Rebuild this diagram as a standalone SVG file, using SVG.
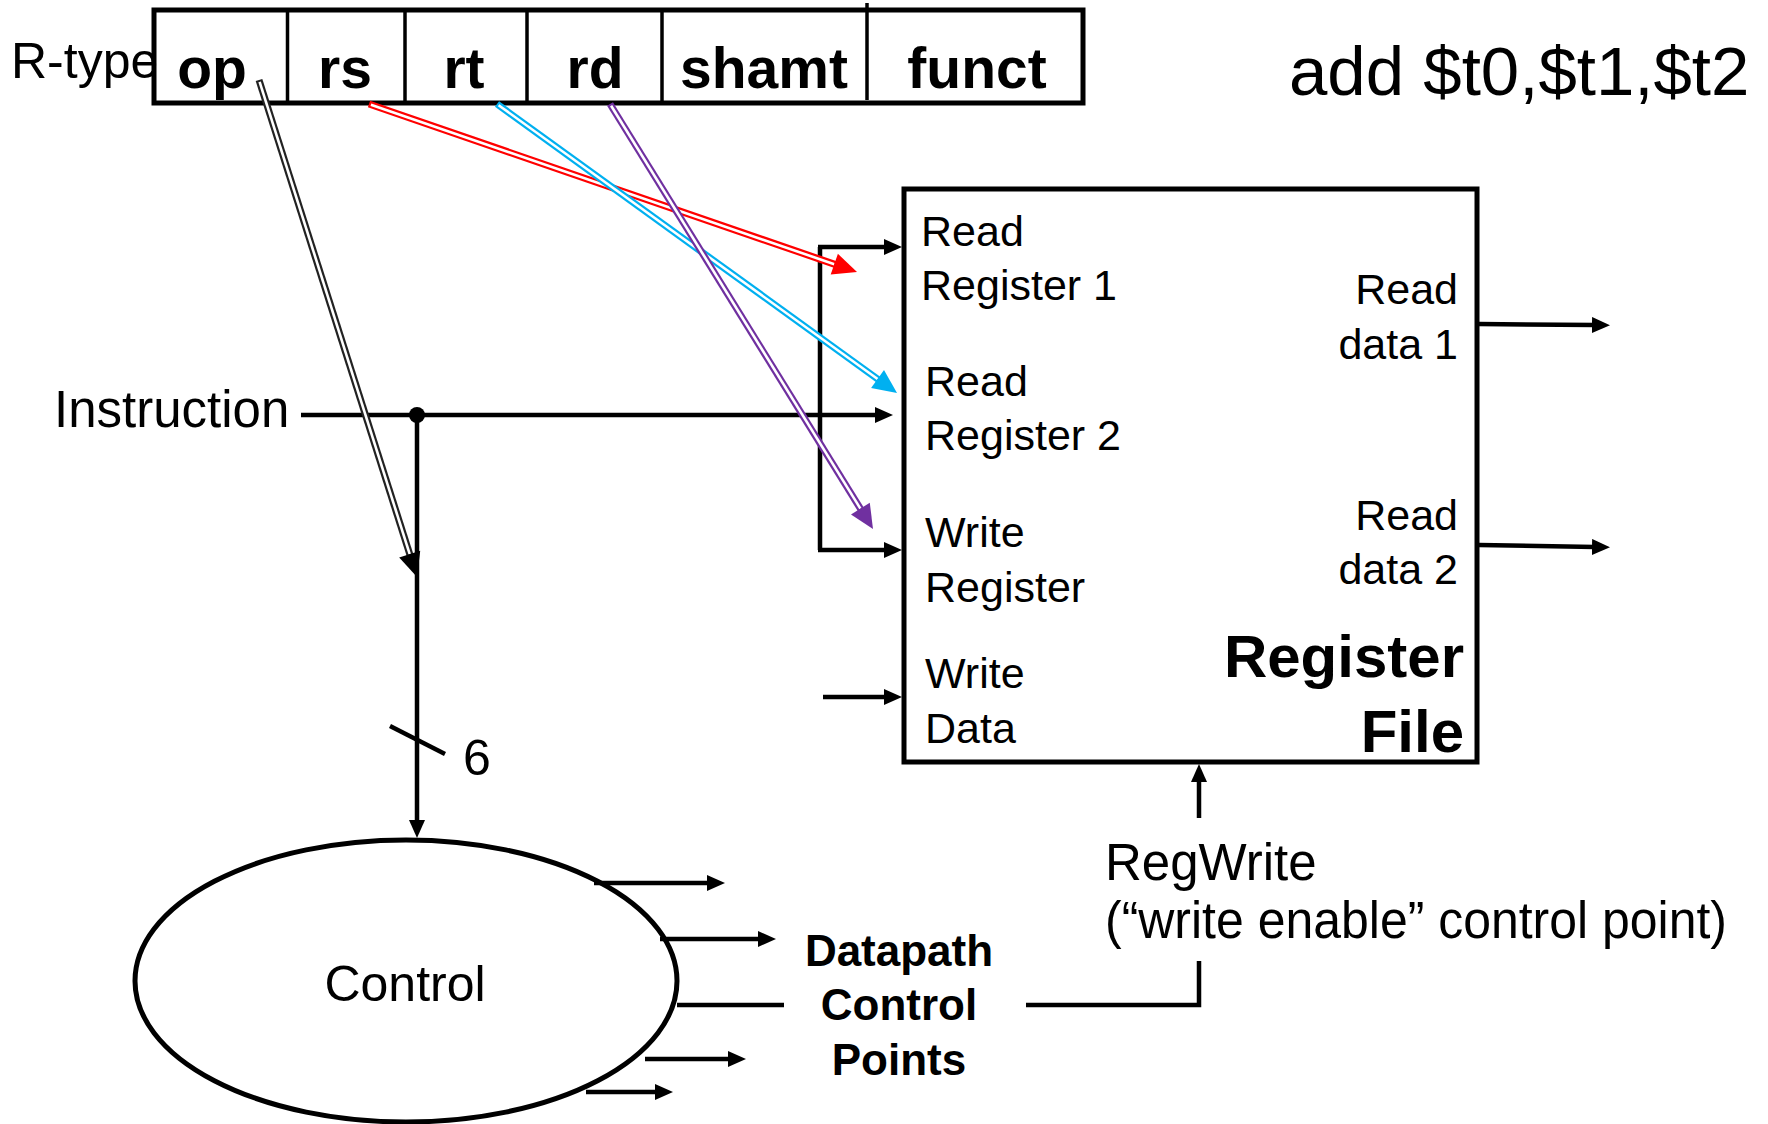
<svg xmlns="http://www.w3.org/2000/svg" width="1768" height="1124" viewBox="0 0 1768 1124">
<style>
text{font-family:"Liberation Sans",Arial,sans-serif;fill:#000}
.fld{font-size:57px;font-weight:bold;text-anchor:middle}
.lbl{font-size:43px}
.rt{font-size:43px;text-anchor:end}
.ln{stroke:#000;stroke-width:4.5;fill:none}
.arr{marker-end:url(#ah)}
.in{stroke:#fff;stroke-width:2.6;fill:none}
</style>
<defs>
<marker id="ah" markerUnits="userSpaceOnUse" markerWidth="20" markerHeight="16" refX="3" refY="8" orient="auto">
<path d="M0,0 L18,8 L0,16 z" fill="#000"/>
</marker>
</defs>
<rect width="1768" height="1124" fill="#fff"/>

<g id="instr-format">
<rect x="154" y="10" width="929" height="93" fill="none" stroke="#000" stroke-width="5"/>
<line x1="287.5" y1="10" x2="287.5" y2="103" stroke="#000" stroke-width="3.5"/>
<line x1="405" y1="10" x2="405" y2="103" stroke="#000" stroke-width="3.5"/>
<line x1="527" y1="10" x2="527" y2="103" stroke="#000" stroke-width="3.5"/>
<line x1="662" y1="10" x2="662" y2="103" stroke="#000" stroke-width="3.5"/>
<line x1="867" y1="3" x2="867" y2="100" stroke="#000" stroke-width="3.5"/>
<text class="fld" x="212" y="88">op</text>
<text class="fld" x="345" y="88">rs</text>
<text class="fld" x="464" y="88">rt</text>
<text class="fld" x="595" y="88">rd</text>
<text class="fld" x="764" y="88">shamt</text>
<text class="fld" x="977" y="88">funct</text>
</g>
<text id="rtype" x="11" y="78" font-size="50">R-type</text>
<text id="asm" x="1289" y="95" font-size="69">add $t0,$t1,$t2</text>

<g id="regfile">
<rect x="904" y="189" width="573" height="573" fill="none" stroke="#000" stroke-width="5"/>
<text class="lbl" x="921" y="246">Read</text>
<text class="lbl" x="921" y="300">Register 1</text>
<text class="lbl" x="925" y="396">Read</text>
<text class="lbl" x="925" y="450">Register 2</text>
<text class="lbl" x="925" y="547">Write</text>
<text class="lbl" x="925" y="602">Register</text>
<text class="lbl" x="925" y="688">Write</text>
<text class="lbl" x="925" y="743">Data</text>
<text class="rt" x="1458" y="304">Read</text>
<text class="rt" x="1458" y="359">data 1</text>
<text class="rt" x="1458" y="530">Read</text>
<text class="rt" x="1458" y="584">data 2</text>
<text x="1464" y="677" font-size="60" font-weight="bold" text-anchor="end">Register</text>
<text x="1464" y="752" font-size="60" font-weight="bold" text-anchor="end">File</text>
</g>

<g id="control">
<ellipse cx="406" cy="981" rx="271" ry="141" fill="none" stroke="#000" stroke-width="5"/>
<text x="405" y="1001" font-size="50" text-anchor="middle">Control</text>
</g>

<g id="labels">
<text x="54" y="427" font-size="51">Instruction</text>
<text x="463" y="775" font-size="50">6</text>
<text x="899" y="966" font-size="44" font-weight="bold" text-anchor="middle">Datapath</text>
<text x="899" y="1020" font-size="44" font-weight="bold" text-anchor="middle">Control</text>
<text x="899" y="1075" font-size="44" font-weight="bold" text-anchor="middle">Points</text>
<text x="1105" y="880" font-size="51">RegWrite</text>
<text x="1105" y="938" font-size="51" textLength="622" lengthAdjust="spacingAndGlyphs">(“write enable” control point)</text>
</g>

<g id="connectors">
<line class="ln arr" x1="301" y1="415" x2="878" y2="415"/>
<circle cx="417" cy="415" r="8" fill="#000"/>
<line class="ln arr" x1="417" y1="415" x2="417" y2="823"/>
<line class="ln" x1="390" y1="726" x2="445" y2="754"/>
<line class="ln" x1="820" y1="247" x2="820" y2="550"/>
<line class="ln arr" x1="818" y1="247" x2="887" y2="247"/>
<line class="ln arr" x1="818" y1="550" x2="887" y2="550"/>
<line class="ln arr" x1="823" y1="697" x2="887" y2="697"/>
<line class="ln arr" x1="1479" y1="324" x2="1595" y2="325"/>
<line class="ln arr" x1="1479" y1="545" x2="1595" y2="547"/>
<line class="ln arr" x1="594" y1="883" x2="710" y2="883"/>
<line class="ln arr" x1="660" y1="939" x2="761" y2="939"/>
<line class="ln" x1="677" y1="1005" x2="784" y2="1005"/>
<line class="ln arr" x1="645" y1="1059" x2="731" y2="1059"/>
<line class="ln arr" x1="586" y1="1092" x2="658" y2="1092"/>
<polyline class="ln" points="1026,1005 1199,1005 1199,961"/>
<line class="ln arr" x1="1199" y1="818" x2="1199" y2="779"/>

<!-- op field double arrow -->
<line x1="259" y1="80" x2="411.5" y2="559.8" stroke="#222" stroke-width="7"/>
<line class="in" x1="259.6" y1="81.9" x2="409.7" y2="554.1"/>
<polygon points="417,577 399.2,557.5 420.2,550.8" fill="#000"/>
<!-- rs -->
<line x1="369" y1="104" x2="840" y2="266.1" stroke="#FF0000" stroke-width="7"/>
<line class="in" x1="370.9" y1="104.7" x2="834.3" y2="264.2"/>
<polygon points="857,272 830.7,274.6 837.9,253.8" fill="#FF0000"/>
<!-- rt -->
<line x1="497" y1="104" x2="882.4" y2="382.5" stroke="#00B0F0" stroke-width="7"/>
<line class="in" x1="498.6" y1="105.2" x2="877.6" y2="379"/>
<polygon points="897,393 871.1,387.9 884,370" fill="#00B0F0"/>
<!-- rd -->
<line x1="610" y1="104" x2="863.5" y2="513.7" stroke="#7030A0" stroke-width="7"/>
<line class="in" x1="611.1" y1="105.7" x2="860.4" y2="508.6"/>
<polygon points="873,529 851,514.4 869.8,502.8" fill="#7030A0"/>
</g>
</svg>
